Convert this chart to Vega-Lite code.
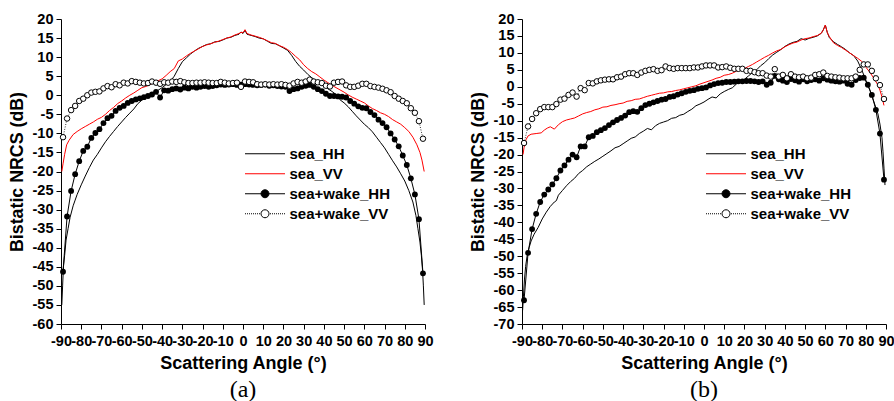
{
"$schema":"https://vega.github.io/schema/vega-lite/v6.json",
"background":"white",
"padding":{"left":8,"top":11,"right":0,"bottom":0},
"spacing":35,
"config":{
 "view":{"stroke":null},
 "axis":{"domainColor":"black","domainWidth":1,"tickColor":"black","tickWidth":1,"tickSize":5,"grid":false,"labelFont":"Liberation Sans","labelFontWeight":"bold","labelFontSize":14.5,"labelColor":"black","titleFont":"Liberation Sans","titleFontWeight":"bold","titleColor":"black","labelOverlap":false,"labelFlush":false,"labelBound":false,"tickCount":100},
 "axisX":{"labelPadding":5,"titleFontSize":18,"titlePadding":7},
 "axisY":{"labelPadding":3,"titleFontSize":17.8,"titlePadding":6},
 "title":{"orient":"bottom","anchor":"middle","frame":"group","font":"Liberation Serif","fontSize":24,"fontWeight":"normal","color":"black","offset":5},
 "legend":{"orient":"none","title":null,"symbolSize":1600,"clipHeight":17.5,"rowPadding":2,"labelFont":"Liberation Sans","labelFontWeight":"bold","labelFontSize":15,"labelColor":"black","labelOffset":4,"labelLimit":300,"symbolStrokeWidth":1,"symbolOpacity":1}
},
"resolve":{"scale":{"color":"independent"},"legend":{"color":"independent"}},
"datasets":{
"a":[
{"series":"sea_HH","angle":-89.6,"nrcs":-55},{"series":"sea_HH","angle":-89.2,"nrcs":-50},{"series":"sea_HH","angle":-88.8,"nrcs":-45},{"series":"sea_HH","angle":-88.2,"nrcs":-42},{"series":"sea_HH","angle":-87.5,"nrcs":-38},{"series":"sea_HH","angle":-86.5,"nrcs":-35},{"series":"sea_HH","angle":-85.5,"nrcs":-32},{"series":"sea_HH","angle":-84,"nrcs":-29},{"series":"sea_HH","angle":-83,"nrcs":-27.5},{"series":"sea_HH","angle":-82,"nrcs":-26},{"series":"sea_HH","angle":-80,"nrcs":-23.5},{"series":"sea_HH","angle":-78,"nrcs":-21.2},{"series":"sea_HH","angle":-76,"nrcs":-19},{"series":"sea_HH","angle":-74,"nrcs":-17},{"series":"sea_HH","angle":-72,"nrcs":-15.5},{"series":"sea_HH","angle":-70,"nrcs":-13.8},{"series":"sea_HH","angle":-68,"nrcs":-12.2},{"series":"sea_HH","angle":-66,"nrcs":-10.8},{"series":"sea_HH","angle":-64,"nrcs":-9.5},{"series":"sea_HH","angle":-62,"nrcs":-8.2},{"series":"sea_HH","angle":-60,"nrcs":-7},{"series":"sea_HH","angle":-58,"nrcs":-5.8},{"series":"sea_HH","angle":-56,"nrcs":-4.7},{"series":"sea_HH","angle":-54,"nrcs":-3.6},{"series":"sea_HH","angle":-52,"nrcs":-2.2},{"series":"sea_HH","angle":-50,"nrcs":-1.3},{"series":"sea_HH","angle":-48,"nrcs":-0.6},{"series":"sea_HH","angle":-46,"nrcs":0.2},{"series":"sea_HH","angle":-44,"nrcs":0.8},{"series":"sea_HH","angle":-42,"nrcs":1.3},{"series":"sea_HH","angle":-40,"nrcs":2},{"series":"sea_HH","angle":-38,"nrcs":2.8},{"series":"sea_HH","angle":-36,"nrcs":3.6},{"series":"sea_HH","angle":-34,"nrcs":5},{"series":"sea_HH","angle":-32,"nrcs":7},{"series":"sea_HH","angle":-30,"nrcs":8.8},{"series":"sea_HH","angle":-28,"nrcs":9.8},{"series":"sea_HH","angle":-26,"nrcs":10.8},{"series":"sea_HH","angle":-24,"nrcs":11.6},{"series":"sea_HH","angle":-22,"nrcs":12.3},{"series":"sea_HH","angle":-20,"nrcs":12.8},{"series":"sea_HH","angle":-18,"nrcs":13.3},{"series":"sea_HH","angle":-16,"nrcs":13.5},{"series":"sea_HH","angle":-14,"nrcs":14},{"series":"sea_HH","angle":-12,"nrcs":14.1},{"series":"sea_HH","angle":-10,"nrcs":14.5},{"series":"sea_HH","angle":-8,"nrcs":15},{"series":"sea_HH","angle":-6,"nrcs":15.2},{"series":"sea_HH","angle":-4,"nrcs":15.7},{"series":"sea_HH","angle":-2,"nrcs":16},{"series":"sea_HH","angle":-1,"nrcs":16.6},{"series":"sea_HH","angle":0,"nrcs":16.2},{"series":"sea_HH","angle":1,"nrcs":17},{"series":"sea_HH","angle":2,"nrcs":16},{"series":"sea_HH","angle":4,"nrcs":15.7},{"series":"sea_HH","angle":6,"nrcs":15.4},{"series":"sea_HH","angle":8,"nrcs":15},{"series":"sea_HH","angle":10,"nrcs":14.8},{"series":"sea_HH","angle":12,"nrcs":14.2},{"series":"sea_HH","angle":14,"nrcs":13.6},{"series":"sea_HH","angle":16,"nrcs":13.5},{"series":"sea_HH","angle":18,"nrcs":13},{"series":"sea_HH","angle":20,"nrcs":12.4},{"series":"sea_HH","angle":22,"nrcs":11.8},{"series":"sea_HH","angle":24,"nrcs":10.5},{"series":"sea_HH","angle":26,"nrcs":8.9},{"series":"sea_HH","angle":28,"nrcs":7.6},{"series":"sea_HH","angle":30,"nrcs":6.6},{"series":"sea_HH","angle":32,"nrcs":5.5},{"series":"sea_HH","angle":34,"nrcs":4.6},{"series":"sea_HH","angle":36,"nrcs":3.8},{"series":"sea_HH","angle":38,"nrcs":3},{"series":"sea_HH","angle":40,"nrcs":2.4},{"series":"sea_HH","angle":42,"nrcs":1.7},{"series":"sea_HH","angle":44,"nrcs":1},{"series":"sea_HH","angle":46,"nrcs":0.2},{"series":"sea_HH","angle":48,"nrcs":-1.2},{"series":"sea_HH","angle":50,"nrcs":-2},{"series":"sea_HH","angle":52,"nrcs":-3},{"series":"sea_HH","angle":54,"nrcs":-4.2},{"series":"sea_HH","angle":56,"nrcs":-5.4},{"series":"sea_HH","angle":58,"nrcs":-6.5},{"series":"sea_HH","angle":60,"nrcs":-7.6},{"series":"sea_HH","angle":62,"nrcs":-8.5},{"series":"sea_HH","angle":64,"nrcs":-9.6},{"series":"sea_HH","angle":66,"nrcs":-11},{"series":"sea_HH","angle":68,"nrcs":-12.4},{"series":"sea_HH","angle":70,"nrcs":-13.8},{"series":"sea_HH","angle":72,"nrcs":-15.5},{"series":"sea_HH","angle":74,"nrcs":-17.2},{"series":"sea_HH","angle":76,"nrcs":-18.8},{"series":"sea_HH","angle":78,"nrcs":-20.6},{"series":"sea_HH","angle":80,"nrcs":-22.5},{"series":"sea_HH","angle":82,"nrcs":-25},{"series":"sea_HH","angle":84,"nrcs":-28},{"series":"sea_HH","angle":85.5,"nrcs":-31.5},{"series":"sea_HH","angle":86.5,"nrcs":-35},{"series":"sea_HH","angle":87.5,"nrcs":-38.5},{"series":"sea_HH","angle":88.2,"nrcs":-42},{"series":"sea_HH","angle":88.8,"nrcs":-46},{"series":"sea_HH","angle":89.2,"nrcs":-50},{"series":"sea_HH","angle":89.6,"nrcs":-55},
{"series":"sea_VV","angle":-89.6,"nrcs":-20},{"series":"sea_VV","angle":-89,"nrcs":-18},{"series":"sea_VV","angle":-88.2,"nrcs":-15.5},{"series":"sea_VV","angle":-87.2,"nrcs":-13},{"series":"sea_VV","angle":-86,"nrcs":-11.8},{"series":"sea_VV","angle":-84,"nrcs":-10.3},{"series":"sea_VV","angle":-82,"nrcs":-9.5},{"series":"sea_VV","angle":-80,"nrcs":-8.8},{"series":"sea_VV","angle":-78,"nrcs":-8.2},{"series":"sea_VV","angle":-76,"nrcs":-7.6},{"series":"sea_VV","angle":-74,"nrcs":-7},{"series":"sea_VV","angle":-72,"nrcs":-6.3},{"series":"sea_VV","angle":-70,"nrcs":-5.8},{"series":"sea_VV","angle":-68,"nrcs":-5},{"series":"sea_VV","angle":-66,"nrcs":-4},{"series":"sea_VV","angle":-64,"nrcs":-3.2},{"series":"sea_VV","angle":-62,"nrcs":-2.2},{"series":"sea_VV","angle":-60,"nrcs":-1.5},{"series":"sea_VV","angle":-58,"nrcs":-0.7},{"series":"sea_VV","angle":-56,"nrcs":0},{"series":"sea_VV","angle":-54,"nrcs":0.6},{"series":"sea_VV","angle":-52,"nrcs":1.3},{"series":"sea_VV","angle":-50,"nrcs":2},{"series":"sea_VV","angle":-48,"nrcs":2.3},{"series":"sea_VV","angle":-46,"nrcs":2.8},{"series":"sea_VV","angle":-44,"nrcs":3.3},{"series":"sea_VV","angle":-42,"nrcs":3.8},{"series":"sea_VV","angle":-40,"nrcs":4.3},{"series":"sea_VV","angle":-38,"nrcs":5.2},{"series":"sea_VV","angle":-36,"nrcs":6.2},{"series":"sea_VV","angle":-34,"nrcs":7},{"series":"sea_VV","angle":-32,"nrcs":9},{"series":"sea_VV","angle":-30,"nrcs":9.5},{"series":"sea_VV","angle":-28,"nrcs":10.3},{"series":"sea_VV","angle":-26,"nrcs":11},{"series":"sea_VV","angle":-24,"nrcs":11.6},{"series":"sea_VV","angle":-22,"nrcs":12.2},{"series":"sea_VV","angle":-20,"nrcs":12.8},{"series":"sea_VV","angle":-18,"nrcs":13.2},{"series":"sea_VV","angle":-16,"nrcs":13.5},{"series":"sea_VV","angle":-14,"nrcs":13.9},{"series":"sea_VV","angle":-12,"nrcs":14.2},{"series":"sea_VV","angle":-10,"nrcs":14.6},{"series":"sea_VV","angle":-8,"nrcs":15},{"series":"sea_VV","angle":-6,"nrcs":15.3},{"series":"sea_VV","angle":-4,"nrcs":15.8},{"series":"sea_VV","angle":-2,"nrcs":16.2},{"series":"sea_VV","angle":-1,"nrcs":16.5},{"series":"sea_VV","angle":0,"nrcs":16.4},{"series":"sea_VV","angle":1,"nrcs":17.2},{"series":"sea_VV","angle":2,"nrcs":16.2},{"series":"sea_VV","angle":4,"nrcs":15.8},{"series":"sea_VV","angle":6,"nrcs":15.5},{"series":"sea_VV","angle":8,"nrcs":15.2},{"series":"sea_VV","angle":10,"nrcs":14.8},{"series":"sea_VV","angle":12,"nrcs":14.3},{"series":"sea_VV","angle":14,"nrcs":13.8},{"series":"sea_VV","angle":16,"nrcs":13.6},{"series":"sea_VV","angle":18,"nrcs":13},{"series":"sea_VV","angle":20,"nrcs":12.6},{"series":"sea_VV","angle":22,"nrcs":12},{"series":"sea_VV","angle":24,"nrcs":11.2},{"series":"sea_VV","angle":26,"nrcs":10.2},{"series":"sea_VV","angle":28,"nrcs":9.3},{"series":"sea_VV","angle":30,"nrcs":8},{"series":"sea_VV","angle":32,"nrcs":7},{"series":"sea_VV","angle":34,"nrcs":6.2},{"series":"sea_VV","angle":36,"nrcs":5.6},{"series":"sea_VV","angle":38,"nrcs":4.8},{"series":"sea_VV","angle":40,"nrcs":4},{"series":"sea_VV","angle":42,"nrcs":3.3},{"series":"sea_VV","angle":44,"nrcs":2.6},{"series":"sea_VV","angle":46,"nrcs":2},{"series":"sea_VV","angle":48,"nrcs":1.4},{"series":"sea_VV","angle":50,"nrcs":0.8},{"series":"sea_VV","angle":52,"nrcs":0.1},{"series":"sea_VV","angle":54,"nrcs":-0.5},{"series":"sea_VV","angle":56,"nrcs":-1},{"series":"sea_VV","angle":58,"nrcs":-1.5},{"series":"sea_VV","angle":60,"nrcs":-2},{"series":"sea_VV","angle":62,"nrcs":-2.8},{"series":"sea_VV","angle":64,"nrcs":-3.5},{"series":"sea_VV","angle":66,"nrcs":-4},{"series":"sea_VV","angle":68,"nrcs":-4.6},{"series":"sea_VV","angle":70,"nrcs":-5},{"series":"sea_VV","angle":72,"nrcs":-5.6},{"series":"sea_VV","angle":74,"nrcs":-6.4},{"series":"sea_VV","angle":76,"nrcs":-7},{"series":"sea_VV","angle":78,"nrcs":-7.6},{"series":"sea_VV","angle":80,"nrcs":-8.5},{"series":"sea_VV","angle":82,"nrcs":-9.5},{"series":"sea_VV","angle":84,"nrcs":-11},{"series":"sea_VV","angle":86,"nrcs":-13},{"series":"sea_VV","angle":87.5,"nrcs":-15},{"series":"sea_VV","angle":88.5,"nrcs":-17},{"series":"sea_VV","angle":89.6,"nrcs":-20},
{"series":"sea+wake_HH","angle":-89,"nrcs":-46.3},{"series":"sea+wake_HH","angle":-87,"nrcs":-31.8},{"series":"sea+wake_HH","angle":-85,"nrcs":-25.1},{"series":"sea+wake_HH","angle":-83,"nrcs":-20.7},{"series":"sea+wake_HH","angle":-81,"nrcs":-17.3},{"series":"sea+wake_HH","angle":-79,"nrcs":-14.6},{"series":"sea+wake_HH","angle":-77,"nrcs":-13.5},{"series":"sea+wake_HH","angle":-75,"nrcs":-11.2},{"series":"sea+wake_HH","angle":-73,"nrcs":-9.9},{"series":"sea+wake_HH","angle":-71,"nrcs":-8.9},{"series":"sea+wake_HH","angle":-69,"nrcs":-7.3},{"series":"sea+wake_HH","angle":-67,"nrcs":-6},{"series":"sea+wake_HH","angle":-65,"nrcs":-5.4},{"series":"sea+wake_HH","angle":-63,"nrcs":-4.1},{"series":"sea+wake_HH","angle":-61,"nrcs":-3.3},{"series":"sea+wake_HH","angle":-59,"nrcs":-2.8},{"series":"sea+wake_HH","angle":-57,"nrcs":-2},{"series":"sea+wake_HH","angle":-55,"nrcs":-1.5},{"series":"sea+wake_HH","angle":-53,"nrcs":-1.1},{"series":"sea+wake_HH","angle":-51,"nrcs":-0.8},{"series":"sea+wake_HH","angle":-49,"nrcs":-0.5},{"series":"sea+wake_HH","angle":-47,"nrcs":-0.2},{"series":"sea+wake_HH","angle":-45,"nrcs":0.2},{"series":"sea+wake_HH","angle":-43,"nrcs":0.9},{"series":"sea+wake_HH","angle":-41,"nrcs":-0.6},{"series":"sea+wake_HH","angle":-39,"nrcs":1.3},{"series":"sea+wake_HH","angle":-37,"nrcs":1.2},{"series":"sea+wake_HH","angle":-35,"nrcs":1.6},{"series":"sea+wake_HH","angle":-33,"nrcs":1.8},{"series":"sea+wake_HH","angle":-31,"nrcs":1.5},{"series":"sea+wake_HH","angle":-29,"nrcs":2},{"series":"sea+wake_HH","angle":-27,"nrcs":1.8},{"series":"sea+wake_HH","angle":-25,"nrcs":2.2},{"series":"sea+wake_HH","angle":-23,"nrcs":2},{"series":"sea+wake_HH","angle":-21,"nrcs":2.2},{"series":"sea+wake_HH","angle":-19,"nrcs":2.4},{"series":"sea+wake_HH","angle":-17,"nrcs":2.2},{"series":"sea+wake_HH","angle":-15,"nrcs":2.4},{"series":"sea+wake_HH","angle":-13,"nrcs":2.6},{"series":"sea+wake_HH","angle":-11,"nrcs":2.8},{"series":"sea+wake_HH","angle":-9,"nrcs":2.7},{"series":"sea+wake_HH","angle":-7,"nrcs":2.8},{"series":"sea+wake_HH","angle":-5,"nrcs":2.9},{"series":"sea+wake_HH","angle":-3,"nrcs":2.7},{"series":"sea+wake_HH","angle":-1,"nrcs":2.8},{"series":"sea+wake_HH","angle":1,"nrcs":2.9},{"series":"sea+wake_HH","angle":3,"nrcs":2.8},{"series":"sea+wake_HH","angle":5,"nrcs":2.7},{"series":"sea+wake_HH","angle":7,"nrcs":2.6},{"series":"sea+wake_HH","angle":9,"nrcs":2.7},{"series":"sea+wake_HH","angle":11,"nrcs":2.8},{"series":"sea+wake_HH","angle":13,"nrcs":2.5},{"series":"sea+wake_HH","angle":15,"nrcs":2.6},{"series":"sea+wake_HH","angle":17,"nrcs":2.4},{"series":"sea+wake_HH","angle":19,"nrcs":2.3},{"series":"sea+wake_HH","angle":21,"nrcs":2.2},{"series":"sea+wake_HH","angle":23,"nrcs":1.1},{"series":"sea+wake_HH","angle":25,"nrcs":1.6},{"series":"sea+wake_HH","angle":27,"nrcs":1.8},{"series":"sea+wake_HH","angle":29,"nrcs":2.2},{"series":"sea+wake_HH","angle":31,"nrcs":2.5},{"series":"sea+wake_HH","angle":33,"nrcs":2.7},{"series":"sea+wake_HH","angle":35,"nrcs":2.2},{"series":"sea+wake_HH","angle":37,"nrcs":1.6},{"series":"sea+wake_HH","angle":39,"nrcs":1.1},{"series":"sea+wake_HH","angle":41,"nrcs":0.4},{"series":"sea+wake_HH","angle":43,"nrcs":-0.2},{"series":"sea+wake_HH","angle":45,"nrcs":-0.2},{"series":"sea+wake_HH","angle":47,"nrcs":-0.3},{"series":"sea+wake_HH","angle":49,"nrcs":-0.4},{"series":"sea+wake_HH","angle":51,"nrcs":-0.6},{"series":"sea+wake_HH","angle":53,"nrcs":-1.5},{"series":"sea+wake_HH","angle":55,"nrcs":-2.2},{"series":"sea+wake_HH","angle":57,"nrcs":-2.9},{"series":"sea+wake_HH","angle":59,"nrcs":-3.3},{"series":"sea+wake_HH","angle":61,"nrcs":-3.4},{"series":"sea+wake_HH","angle":63,"nrcs":-4.4},{"series":"sea+wake_HH","angle":65,"nrcs":-5.2},{"series":"sea+wake_HH","angle":67,"nrcs":-6.4},{"series":"sea+wake_HH","angle":69,"nrcs":-7.3},{"series":"sea+wake_HH","angle":71,"nrcs":-8.4},{"series":"sea+wake_HH","angle":73,"nrcs":-10},{"series":"sea+wake_HH","angle":75,"nrcs":-11.6},{"series":"sea+wake_HH","angle":77,"nrcs":-13.4},{"series":"sea+wake_HH","angle":79,"nrcs":-15.8},{"series":"sea+wake_HH","angle":81,"nrcs":-18.3},{"series":"sea+wake_HH","angle":83,"nrcs":-21.8},{"series":"sea+wake_HH","angle":85,"nrcs":-26},{"series":"sea+wake_HH","angle":87,"nrcs":-32.5},{"series":"sea+wake_HH","angle":89,"nrcs":-46.7},
{"series":"sea+wake_VV","angle":-89,"nrcs":-11},{"series":"sea+wake_VV","angle":-87,"nrcs":-6.1},{"series":"sea+wake_VV","angle":-85,"nrcs":-3.9},{"series":"sea+wake_VV","angle":-83,"nrcs":-2.8},{"series":"sea+wake_VV","angle":-81,"nrcs":-1.5},{"series":"sea+wake_VV","angle":-79,"nrcs":-0.9},{"series":"sea+wake_VV","angle":-77,"nrcs":0},{"series":"sea+wake_VV","angle":-75,"nrcs":0.7},{"series":"sea+wake_VV","angle":-73,"nrcs":0.9},{"series":"sea+wake_VV","angle":-71,"nrcs":1},{"series":"sea+wake_VV","angle":-69,"nrcs":1.8},{"series":"sea+wake_VV","angle":-67,"nrcs":2.4},{"series":"sea+wake_VV","angle":-65,"nrcs":2.1},{"series":"sea+wake_VV","angle":-63,"nrcs":2.9},{"series":"sea+wake_VV","angle":-61,"nrcs":2.6},{"series":"sea+wake_VV","angle":-59,"nrcs":3.3},{"series":"sea+wake_VV","angle":-57,"nrcs":3.1},{"series":"sea+wake_VV","angle":-55,"nrcs":3.7},{"series":"sea+wake_VV","angle":-53,"nrcs":3.5},{"series":"sea+wake_VV","angle":-51,"nrcs":3.3},{"series":"sea+wake_VV","angle":-49,"nrcs":3.1},{"series":"sea+wake_VV","angle":-47,"nrcs":3.2},{"series":"sea+wake_VV","angle":-45,"nrcs":3.6},{"series":"sea+wake_VV","angle":-43,"nrcs":3.3},{"series":"sea+wake_VV","angle":-41,"nrcs":3},{"series":"sea+wake_VV","angle":-39,"nrcs":3.4},{"series":"sea+wake_VV","angle":-37,"nrcs":3.3},{"series":"sea+wake_VV","angle":-35,"nrcs":3.6},{"series":"sea+wake_VV","angle":-33,"nrcs":3.5},{"series":"sea+wake_VV","angle":-31,"nrcs":3.7},{"series":"sea+wake_VV","angle":-29,"nrcs":3.4},{"series":"sea+wake_VV","angle":-27,"nrcs":3.2},{"series":"sea+wake_VV","angle":-25,"nrcs":3.2},{"series":"sea+wake_VV","angle":-23,"nrcs":3.3},{"series":"sea+wake_VV","angle":-21,"nrcs":3.3},{"series":"sea+wake_VV","angle":-19,"nrcs":3.4},{"series":"sea+wake_VV","angle":-17,"nrcs":3.3},{"series":"sea+wake_VV","angle":-15,"nrcs":3.2},{"series":"sea+wake_VV","angle":-13,"nrcs":3.2},{"series":"sea+wake_VV","angle":-11,"nrcs":3.5},{"series":"sea+wake_VV","angle":-9,"nrcs":3.3},{"series":"sea+wake_VV","angle":-7,"nrcs":3.1},{"series":"sea+wake_VV","angle":-5,"nrcs":3.2},{"series":"sea+wake_VV","angle":-3,"nrcs":3.3},{"series":"sea+wake_VV","angle":-1,"nrcs":2.2},{"series":"sea+wake_VV","angle":1,"nrcs":3.6},{"series":"sea+wake_VV","angle":3,"nrcs":3.5},{"series":"sea+wake_VV","angle":5,"nrcs":3.4},{"series":"sea+wake_VV","angle":7,"nrcs":2.9},{"series":"sea+wake_VV","angle":9,"nrcs":2.8},{"series":"sea+wake_VV","angle":11,"nrcs":2.9},{"series":"sea+wake_VV","angle":13,"nrcs":2.8},{"series":"sea+wake_VV","angle":15,"nrcs":2.9},{"series":"sea+wake_VV","angle":17,"nrcs":2.8},{"series":"sea+wake_VV","angle":19,"nrcs":2.9},{"series":"sea+wake_VV","angle":21,"nrcs":2.7},{"series":"sea+wake_VV","angle":23,"nrcs":2.5},{"series":"sea+wake_VV","angle":25,"nrcs":3.1},{"series":"sea+wake_VV","angle":27,"nrcs":3.5},{"series":"sea+wake_VV","angle":29,"nrcs":3.3},{"series":"sea+wake_VV","angle":31,"nrcs":3.6},{"series":"sea+wake_VV","angle":33,"nrcs":4.1},{"series":"sea+wake_VV","angle":35,"nrcs":3.6},{"series":"sea+wake_VV","angle":37,"nrcs":3.4},{"series":"sea+wake_VV","angle":39,"nrcs":3.2},{"series":"sea+wake_VV","angle":41,"nrcs":2.5},{"series":"sea+wake_VV","angle":43,"nrcs":2.3},{"series":"sea+wake_VV","angle":45,"nrcs":3.3},{"series":"sea+wake_VV","angle":47,"nrcs":3.5},{"series":"sea+wake_VV","angle":49,"nrcs":3.6},{"series":"sea+wake_VV","angle":51,"nrcs":2.6},{"series":"sea+wake_VV","angle":53,"nrcs":2.2},{"series":"sea+wake_VV","angle":55,"nrcs":2.2},{"series":"sea+wake_VV","angle":57,"nrcs":2.5},{"series":"sea+wake_VV","angle":59,"nrcs":3},{"series":"sea+wake_VV","angle":61,"nrcs":3},{"series":"sea+wake_VV","angle":63,"nrcs":2.4},{"series":"sea+wake_VV","angle":65,"nrcs":2.2},{"series":"sea+wake_VV","angle":67,"nrcs":2},{"series":"sea+wake_VV","angle":69,"nrcs":1.7},{"series":"sea+wake_VV","angle":71,"nrcs":1.3},{"series":"sea+wake_VV","angle":73,"nrcs":0.8},{"series":"sea+wake_VV","angle":75,"nrcs":-0.2},{"series":"sea+wake_VV","angle":77,"nrcs":-0.9},{"series":"sea+wake_VV","angle":79,"nrcs":-1.5},{"series":"sea+wake_VV","angle":81,"nrcs":-2.1},{"series":"sea+wake_VV","angle":83,"nrcs":-3.4},{"series":"sea+wake_VV","angle":85,"nrcs":-4.6},{"series":"sea+wake_VV","angle":87,"nrcs":-6.8},{"series":"sea+wake_VV","angle":89,"nrcs":-11.4}
],
"b":[
{"series":"sea_HH","angle":-89.7,"nrcs":-66},{"series":"sea_HH","angle":-89.3,"nrcs":-62},{"series":"sea_HH","angle":-88.8,"nrcs":-57},{"series":"sea_HH","angle":-88.2,"nrcs":-53},{"series":"sea_HH","angle":-87.5,"nrcs":-50},{"series":"sea_HH","angle":-86.5,"nrcs":-47.5},{"series":"sea_HH","angle":-85.5,"nrcs":-45.5},{"series":"sea_HH","angle":-84,"nrcs":-43.5},{"series":"sea_HH","angle":-82,"nrcs":-41.5},{"series":"sea_HH","angle":-80,"nrcs":-39},{"series":"sea_HH","angle":-78,"nrcs":-37},{"series":"sea_HH","angle":-76,"nrcs":-35.3},{"series":"sea_HH","angle":-74,"nrcs":-34},{"series":"sea_HH","angle":-73,"nrcs":-33.6},{"series":"sea_HH","angle":-72,"nrcs":-32},{"series":"sea_HH","angle":-70,"nrcs":-30.6},{"series":"sea_HH","angle":-68,"nrcs":-29.2},{"series":"sea_HH","angle":-66,"nrcs":-28},{"series":"sea_HH","angle":-64,"nrcs":-27},{"series":"sea_HH","angle":-62,"nrcs":-25.6},{"series":"sea_HH","angle":-60,"nrcs":-24.7},{"series":"sea_HH","angle":-58,"nrcs":-23.6},{"series":"sea_HH","angle":-56,"nrcs":-22.8},{"series":"sea_HH","angle":-54,"nrcs":-22},{"series":"sea_HH","angle":-52,"nrcs":-21.3},{"series":"sea_HH","angle":-50,"nrcs":-20.5},{"series":"sea_HH","angle":-48,"nrcs":-19.7},{"series":"sea_HH","angle":-46,"nrcs":-18.9},{"series":"sea_HH","angle":-44,"nrcs":-18},{"series":"sea_HH","angle":-42,"nrcs":-17.6},{"series":"sea_HH","angle":-40,"nrcs":-16.8},{"series":"sea_HH","angle":-38,"nrcs":-16},{"series":"sea_HH","angle":-36,"nrcs":-15.2},{"series":"sea_HH","angle":-34,"nrcs":-14.8},{"series":"sea_HH","angle":-32,"nrcs":-13.8},{"series":"sea_HH","angle":-30,"nrcs":-13.1},{"series":"sea_HH","angle":-28,"nrcs":-12.3},{"series":"sea_HH","angle":-26,"nrcs":-12.7},{"series":"sea_HH","angle":-24,"nrcs":-11.5},{"series":"sea_HH","angle":-22,"nrcs":-10.8},{"series":"sea_HH","angle":-20,"nrcs":-10.4},{"series":"sea_HH","angle":-18,"nrcs":-10},{"series":"sea_HH","angle":-16,"nrcs":-9.3},{"series":"sea_HH","angle":-14,"nrcs":-9.1},{"series":"sea_HH","angle":-12,"nrcs":-8.4},{"series":"sea_HH","angle":-10,"nrcs":-8.1},{"series":"sea_HH","angle":-8,"nrcs":-7.3},{"series":"sea_HH","angle":-6,"nrcs":-6.6},{"series":"sea_HH","angle":-4,"nrcs":-5.6},{"series":"sea_HH","angle":-2,"nrcs":-5.1},{"series":"sea_HH","angle":0,"nrcs":-4.5},{"series":"sea_HH","angle":2,"nrcs":-3.7},{"series":"sea_HH","angle":4,"nrcs":-3},{"series":"sea_HH","angle":6,"nrcs":-3.3},{"series":"sea_HH","angle":8,"nrcs":-2.1},{"series":"sea_HH","angle":10,"nrcs":-1.4},{"series":"sea_HH","angle":12,"nrcs":-0.8},{"series":"sea_HH","angle":14,"nrcs":-0.3},{"series":"sea_HH","angle":16,"nrcs":0.8},{"series":"sea_HH","angle":18,"nrcs":1.6},{"series":"sea_HH","angle":20,"nrcs":2.2},{"series":"sea_HH","angle":22,"nrcs":3.2},{"series":"sea_HH","angle":24,"nrcs":4.2},{"series":"sea_HH","angle":26,"nrcs":5},{"series":"sea_HH","angle":28,"nrcs":6.2},{"series":"sea_HH","angle":30,"nrcs":7.1},{"series":"sea_HH","angle":32,"nrcs":8.3},{"series":"sea_HH","angle":34,"nrcs":9.4},{"series":"sea_HH","angle":36,"nrcs":10.2},{"series":"sea_HH","angle":38,"nrcs":11},{"series":"sea_HH","angle":40,"nrcs":11.9},{"series":"sea_HH","angle":42,"nrcs":12.6},{"series":"sea_HH","angle":44,"nrcs":13.1},{"series":"sea_HH","angle":46,"nrcs":13.4},{"series":"sea_HH","angle":48,"nrcs":14.2},{"series":"sea_HH","angle":50,"nrcs":13.8},{"series":"sea_HH","angle":52,"nrcs":14.3},{"series":"sea_HH","angle":54,"nrcs":14.6},{"series":"sea_HH","angle":56,"nrcs":15},{"series":"sea_HH","angle":58,"nrcs":15.8},{"series":"sea_HH","angle":59,"nrcs":16.8},{"series":"sea_HH","angle":60,"nrcs":18.2},{"series":"sea_HH","angle":61,"nrcs":16},{"series":"sea_HH","angle":62,"nrcs":14.5},{"series":"sea_HH","angle":64,"nrcs":13.3},{"series":"sea_HH","angle":66,"nrcs":12.5},{"series":"sea_HH","angle":68,"nrcs":11.8},{"series":"sea_HH","angle":70,"nrcs":11},{"series":"sea_HH","angle":72,"nrcs":10},{"series":"sea_HH","angle":74,"nrcs":9.2},{"series":"sea_HH","angle":76,"nrcs":7.6},{"series":"sea_HH","angle":78,"nrcs":5},{"series":"sea_HH","angle":80,"nrcs":2},{"series":"sea_HH","angle":82,"nrcs":-1},{"series":"sea_HH","angle":84,"nrcs":-4.4},{"series":"sea_HH","angle":86,"nrcs":-8},{"series":"sea_HH","angle":87,"nrcs":-11},{"series":"sea_HH","angle":88,"nrcs":-15},{"series":"sea_HH","angle":88.5,"nrcs":-19},{"series":"sea_HH","angle":89,"nrcs":-24},{"series":"sea_HH","angle":89.5,"nrcs":-29},
{"series":"sea_VV","angle":-89.5,"nrcs":-20},{"series":"sea_VV","angle":-89,"nrcs":-18},{"series":"sea_VV","angle":-88,"nrcs":-15.6},{"series":"sea_VV","angle":-87,"nrcs":-14.5},{"series":"sea_VV","angle":-85.5,"nrcs":-14},{"series":"sea_VV","angle":-83,"nrcs":-13.8},{"series":"sea_VV","angle":-80.5,"nrcs":-13.6},{"series":"sea_VV","angle":-79,"nrcs":-12.8},{"series":"sea_VV","angle":-77.5,"nrcs":-12.2},{"series":"sea_VV","angle":-76,"nrcs":-11.8},{"series":"sea_VV","angle":-74,"nrcs":-12.5},{"series":"sea_VV","angle":-72,"nrcs":-11.2},{"series":"sea_VV","angle":-70,"nrcs":-10.3},{"series":"sea_VV","angle":-68,"nrcs":-9.8},{"series":"sea_VV","angle":-66,"nrcs":-9.5},{"series":"sea_VV","angle":-64,"nrcs":-9.2},{"series":"sea_VV","angle":-62,"nrcs":-8.6},{"series":"sea_VV","angle":-60,"nrcs":-8},{"series":"sea_VV","angle":-58,"nrcs":-7.6},{"series":"sea_VV","angle":-56,"nrcs":-7.3},{"series":"sea_VV","angle":-54,"nrcs":-6.8},{"series":"sea_VV","angle":-52,"nrcs":-6.5},{"series":"sea_VV","angle":-50,"nrcs":-6},{"series":"sea_VV","angle":-48,"nrcs":-5.9},{"series":"sea_VV","angle":-46,"nrcs":-5.5},{"series":"sea_VV","angle":-44,"nrcs":-5.3},{"series":"sea_VV","angle":-42,"nrcs":-5},{"series":"sea_VV","angle":-40,"nrcs":-4.8},{"series":"sea_VV","angle":-38,"nrcs":-4.3},{"series":"sea_VV","angle":-36,"nrcs":-4.1},{"series":"sea_VV","angle":-34,"nrcs":-3.7},{"series":"sea_VV","angle":-32,"nrcs":-3.6},{"series":"sea_VV","angle":-30,"nrcs":-3.2},{"series":"sea_VV","angle":-28,"nrcs":-2.8},{"series":"sea_VV","angle":-26,"nrcs":-2.5},{"series":"sea_VV","angle":-24,"nrcs":-2.2},{"series":"sea_VV","angle":-22,"nrcs":-1.9},{"series":"sea_VV","angle":-20,"nrcs":-1.8},{"series":"sea_VV","angle":-18,"nrcs":-1.5},{"series":"sea_VV","angle":-16,"nrcs":-1.4},{"series":"sea_VV","angle":-14,"nrcs":-1.1},{"series":"sea_VV","angle":-12,"nrcs":-0.9},{"series":"sea_VV","angle":-10,"nrcs":-0.6},{"series":"sea_VV","angle":-8,"nrcs":-0.3},{"series":"sea_VV","angle":-6,"nrcs":0},{"series":"sea_VV","angle":-4,"nrcs":0.3},{"series":"sea_VV","angle":-2,"nrcs":0.8},{"series":"sea_VV","angle":0,"nrcs":1.2},{"series":"sea_VV","angle":2,"nrcs":1.6},{"series":"sea_VV","angle":4,"nrcs":2},{"series":"sea_VV","angle":6,"nrcs":2.5},{"series":"sea_VV","angle":8,"nrcs":2.8},{"series":"sea_VV","angle":10,"nrcs":3.4},{"series":"sea_VV","angle":12,"nrcs":3.6},{"series":"sea_VV","angle":14,"nrcs":4},{"series":"sea_VV","angle":16,"nrcs":4.6},{"series":"sea_VV","angle":18,"nrcs":5},{"series":"sea_VV","angle":20,"nrcs":5.4},{"series":"sea_VV","angle":22,"nrcs":6},{"series":"sea_VV","angle":24,"nrcs":6.6},{"series":"sea_VV","angle":26,"nrcs":7.3},{"series":"sea_VV","angle":28,"nrcs":8},{"series":"sea_VV","angle":30,"nrcs":8.7},{"series":"sea_VV","angle":32,"nrcs":9.3},{"series":"sea_VV","angle":34,"nrcs":10},{"series":"sea_VV","angle":36,"nrcs":10.6},{"series":"sea_VV","angle":38,"nrcs":11},{"series":"sea_VV","angle":40,"nrcs":11.8},{"series":"sea_VV","angle":42,"nrcs":12.4},{"series":"sea_VV","angle":44,"nrcs":12.9},{"series":"sea_VV","angle":46,"nrcs":13.2},{"series":"sea_VV","angle":48,"nrcs":13.8},{"series":"sea_VV","angle":50,"nrcs":14.2},{"series":"sea_VV","angle":52,"nrcs":14.4},{"series":"sea_VV","angle":54,"nrcs":14.8},{"series":"sea_VV","angle":56,"nrcs":15.1},{"series":"sea_VV","angle":58,"nrcs":15.8},{"series":"sea_VV","angle":59,"nrcs":16.8},{"series":"sea_VV","angle":60,"nrcs":18.2},{"series":"sea_VV","angle":61,"nrcs":15.9},{"series":"sea_VV","angle":62,"nrcs":14.8},{"series":"sea_VV","angle":64,"nrcs":13},{"series":"sea_VV","angle":66,"nrcs":12.2},{"series":"sea_VV","angle":68,"nrcs":11.6},{"series":"sea_VV","angle":70,"nrcs":10.8},{"series":"sea_VV","angle":72,"nrcs":10},{"series":"sea_VV","angle":74,"nrcs":9.2},{"series":"sea_VV","angle":76,"nrcs":8.4},{"series":"sea_VV","angle":78,"nrcs":7.5},{"series":"sea_VV","angle":80,"nrcs":5.8},{"series":"sea_VV","angle":82,"nrcs":4.3},{"series":"sea_VV","angle":84,"nrcs":2.5},{"series":"sea_VV","angle":86,"nrcs":0.5},{"series":"sea_VV","angle":87,"nrcs":-1},{"series":"sea_VV","angle":88,"nrcs":-3},{"series":"sea_VV","angle":89,"nrcs":-5.5},
{"series":"sea+wake_HH","angle":-89,"nrcs":-63},{"series":"sea+wake_HH","angle":-87,"nrcs":-49},{"series":"sea+wake_HH","angle":-85,"nrcs":-42},{"series":"sea+wake_HH","angle":-83,"nrcs":-37.5},{"series":"sea+wake_HH","angle":-81,"nrcs":-34},{"series":"sea+wake_HH","angle":-79,"nrcs":-31.8},{"series":"sea+wake_HH","angle":-77,"nrcs":-30.3},{"series":"sea+wake_HH","angle":-75,"nrcs":-28.8},{"series":"sea+wake_HH","angle":-73,"nrcs":-27},{"series":"sea+wake_HH","angle":-71,"nrcs":-24.7},{"series":"sea+wake_HH","angle":-69,"nrcs":-23.2},{"series":"sea+wake_HH","angle":-67,"nrcs":-21.5},{"series":"sea+wake_HH","angle":-65,"nrcs":-20},{"series":"sea+wake_HH","angle":-63,"nrcs":-20.8},{"series":"sea+wake_HH","angle":-61,"nrcs":-17.6},{"series":"sea+wake_HH","angle":-59,"nrcs":-17.6},{"series":"sea+wake_HH","angle":-57,"nrcs":-14.9},{"series":"sea+wake_HH","angle":-55,"nrcs":-14.5},{"series":"sea+wake_HH","angle":-53,"nrcs":-13.4},{"series":"sea+wake_HH","angle":-51,"nrcs":-12.8},{"series":"sea+wake_HH","angle":-49,"nrcs":-12.2},{"series":"sea+wake_HH","angle":-47,"nrcs":-11.3},{"series":"sea+wake_HH","angle":-45,"nrcs":-10.5},{"series":"sea+wake_HH","angle":-43,"nrcs":-9.8},{"series":"sea+wake_HH","angle":-41,"nrcs":-9.2},{"series":"sea+wake_HH","angle":-39,"nrcs":-8.5},{"series":"sea+wake_HH","angle":-37,"nrcs":-7.5},{"series":"sea+wake_HH","angle":-35,"nrcs":-7.2},{"series":"sea+wake_HH","angle":-33,"nrcs":-7.4},{"series":"sea+wake_HH","angle":-31,"nrcs":-6.3},{"series":"sea+wake_HH","angle":-29,"nrcs":-5.4},{"series":"sea+wake_HH","angle":-27,"nrcs":-5},{"series":"sea+wake_HH","angle":-25,"nrcs":-4.6},{"series":"sea+wake_HH","angle":-23,"nrcs":-4.2},{"series":"sea+wake_HH","angle":-21,"nrcs":-3.8},{"series":"sea+wake_HH","angle":-19,"nrcs":-3.6},{"series":"sea+wake_HH","angle":-17,"nrcs":-3},{"series":"sea+wake_HH","angle":-15,"nrcs":-2.8},{"series":"sea+wake_HH","angle":-13,"nrcs":-2.3},{"series":"sea+wake_HH","angle":-11,"nrcs":-1.9},{"series":"sea+wake_HH","angle":-9,"nrcs":-1.5},{"series":"sea+wake_HH","angle":-7,"nrcs":-1.2},{"series":"sea+wake_HH","angle":-5,"nrcs":-1},{"series":"sea+wake_HH","angle":-3,"nrcs":-0.6},{"series":"sea+wake_HH","angle":-1,"nrcs":-0.4},{"series":"sea+wake_HH","angle":1,"nrcs":-0.2},{"series":"sea+wake_HH","angle":3,"nrcs":0.4},{"series":"sea+wake_HH","angle":5,"nrcs":0.8},{"series":"sea+wake_HH","angle":7,"nrcs":1.1},{"series":"sea+wake_HH","angle":9,"nrcs":1.2},{"series":"sea+wake_HH","angle":11,"nrcs":1.4},{"series":"sea+wake_HH","angle":13,"nrcs":1.4},{"series":"sea+wake_HH","angle":15,"nrcs":1.5},{"series":"sea+wake_HH","angle":17,"nrcs":1.6},{"series":"sea+wake_HH","angle":19,"nrcs":1.6},{"series":"sea+wake_HH","angle":21,"nrcs":1.7},{"series":"sea+wake_HH","angle":23,"nrcs":1.7},{"series":"sea+wake_HH","angle":25,"nrcs":1.6},{"series":"sea+wake_HH","angle":27,"nrcs":1.4},{"series":"sea+wake_HH","angle":29,"nrcs":1.6},{"series":"sea+wake_HH","angle":31,"nrcs":0.6},{"series":"sea+wake_HH","angle":33,"nrcs":1.2},{"series":"sea+wake_HH","angle":35,"nrcs":3.2},{"series":"sea+wake_HH","angle":37,"nrcs":2.2},{"series":"sea+wake_HH","angle":39,"nrcs":1.8},{"series":"sea+wake_HH","angle":41,"nrcs":1.4},{"series":"sea+wake_HH","angle":43,"nrcs":2.3},{"series":"sea+wake_HH","angle":45,"nrcs":1.9},{"series":"sea+wake_HH","angle":47,"nrcs":1.5},{"series":"sea+wake_HH","angle":49,"nrcs":2.2},{"series":"sea+wake_HH","angle":51,"nrcs":1.6},{"series":"sea+wake_HH","angle":53,"nrcs":2},{"series":"sea+wake_HH","angle":55,"nrcs":2.2},{"series":"sea+wake_HH","angle":57,"nrcs":1.8},{"series":"sea+wake_HH","angle":59,"nrcs":2.5},{"series":"sea+wake_HH","angle":61,"nrcs":2.1},{"series":"sea+wake_HH","angle":63,"nrcs":1.8},{"series":"sea+wake_HH","angle":65,"nrcs":1.6},{"series":"sea+wake_HH","angle":67,"nrcs":1.5},{"series":"sea+wake_HH","angle":69,"nrcs":1.8},{"series":"sea+wake_HH","angle":71,"nrcs":0.9},{"series":"sea+wake_HH","angle":73,"nrcs":0.6},{"series":"sea+wake_HH","angle":75,"nrcs":2},{"series":"sea+wake_HH","angle":77,"nrcs":2.6},{"series":"sea+wake_HH","angle":79,"nrcs":2.7},{"series":"sea+wake_HH","angle":81,"nrcs":0.6},{"series":"sea+wake_HH","angle":83,"nrcs":-2.4},{"series":"sea+wake_HH","angle":85,"nrcs":-6.8},{"series":"sea+wake_HH","angle":87,"nrcs":-13.8},{"series":"sea+wake_HH","angle":89,"nrcs":-27.4},
{"series":"sea+wake_VV","angle":-89,"nrcs":-16.6},{"series":"sea+wake_VV","angle":-87,"nrcs":-11.7},{"series":"sea+wake_VV","angle":-85,"nrcs":-9.5},{"series":"sea+wake_VV","angle":-83,"nrcs":-7.8},{"series":"sea+wake_VV","angle":-81,"nrcs":-6.6},{"series":"sea+wake_VV","angle":-79,"nrcs":-6},{"series":"sea+wake_VV","angle":-77,"nrcs":-6},{"series":"sea+wake_VV","angle":-75,"nrcs":-6},{"series":"sea+wake_VV","angle":-73,"nrcs":-5.1},{"series":"sea+wake_VV","angle":-71,"nrcs":-3.8},{"series":"sea+wake_VV","angle":-69,"nrcs":-3.5},{"series":"sea+wake_VV","angle":-67,"nrcs":-2.4},{"series":"sea+wake_VV","angle":-65,"nrcs":-1.7},{"series":"sea+wake_VV","angle":-63,"nrcs":-2.9},{"series":"sea+wake_VV","angle":-61,"nrcs":-0.4},{"series":"sea+wake_VV","angle":-59,"nrcs":-1},{"series":"sea+wake_VV","angle":-57,"nrcs":1.1},{"series":"sea+wake_VV","angle":-55,"nrcs":1},{"series":"sea+wake_VV","angle":-53,"nrcs":1.6},{"series":"sea+wake_VV","angle":-51,"nrcs":1.9},{"series":"sea+wake_VV","angle":-49,"nrcs":2.1},{"series":"sea+wake_VV","angle":-47,"nrcs":2.2},{"series":"sea+wake_VV","angle":-45,"nrcs":2.2},{"series":"sea+wake_VV","angle":-43,"nrcs":2.8},{"series":"sea+wake_VV","angle":-41,"nrcs":3},{"series":"sea+wake_VV","angle":-39,"nrcs":3.7},{"series":"sea+wake_VV","angle":-37,"nrcs":4},{"series":"sea+wake_VV","angle":-35,"nrcs":4},{"series":"sea+wake_VV","angle":-33,"nrcs":3.5},{"series":"sea+wake_VV","angle":-31,"nrcs":4.2},{"series":"sea+wake_VV","angle":-29,"nrcs":4.7},{"series":"sea+wake_VV","angle":-27,"nrcs":5},{"series":"sea+wake_VV","angle":-25,"nrcs":5.2},{"series":"sea+wake_VV","angle":-23,"nrcs":4.7},{"series":"sea+wake_VV","angle":-21,"nrcs":4.9},{"series":"sea+wake_VV","angle":-19,"nrcs":6},{"series":"sea+wake_VV","angle":-17,"nrcs":5.5},{"series":"sea+wake_VV","angle":-15,"nrcs":5.3},{"series":"sea+wake_VV","angle":-13,"nrcs":5.5},{"series":"sea+wake_VV","angle":-11,"nrcs":5.5},{"series":"sea+wake_VV","angle":-9,"nrcs":5.5},{"series":"sea+wake_VV","angle":-7,"nrcs":5.5},{"series":"sea+wake_VV","angle":-5,"nrcs":5.7},{"series":"sea+wake_VV","angle":-3,"nrcs":5.7},{"series":"sea+wake_VV","angle":-1,"nrcs":6},{"series":"sea+wake_VV","angle":1,"nrcs":6.3},{"series":"sea+wake_VV","angle":3,"nrcs":6.3},{"series":"sea+wake_VV","angle":5,"nrcs":6.3},{"series":"sea+wake_VV","angle":7,"nrcs":5.7},{"series":"sea+wake_VV","angle":9,"nrcs":5.8},{"series":"sea+wake_VV","angle":11,"nrcs":6},{"series":"sea+wake_VV","angle":13,"nrcs":5.6},{"series":"sea+wake_VV","angle":15,"nrcs":5.3},{"series":"sea+wake_VV","angle":17,"nrcs":5.3},{"series":"sea+wake_VV","angle":19,"nrcs":5.3},{"series":"sea+wake_VV","angle":21,"nrcs":4.7},{"series":"sea+wake_VV","angle":23,"nrcs":4.7},{"series":"sea+wake_VV","angle":25,"nrcs":4.3},{"series":"sea+wake_VV","angle":27,"nrcs":4},{"series":"sea+wake_VV","angle":29,"nrcs":4},{"series":"sea+wake_VV","angle":31,"nrcs":3.3},{"series":"sea+wake_VV","angle":33,"nrcs":3},{"series":"sea+wake_VV","angle":35,"nrcs":5.2},{"series":"sea+wake_VV","angle":37,"nrcs":3},{"series":"sea+wake_VV","angle":39,"nrcs":3.5},{"series":"sea+wake_VV","angle":41,"nrcs":2.5},{"series":"sea+wake_VV","angle":43,"nrcs":3.7},{"series":"sea+wake_VV","angle":45,"nrcs":3},{"series":"sea+wake_VV","angle":47,"nrcs":2.8},{"series":"sea+wake_VV","angle":49,"nrcs":3},{"series":"sea+wake_VV","angle":51,"nrcs":2.5},{"series":"sea+wake_VV","angle":53,"nrcs":2.7},{"series":"sea+wake_VV","angle":55,"nrcs":3.5},{"series":"sea+wake_VV","angle":57,"nrcs":3.7},{"series":"sea+wake_VV","angle":59,"nrcs":4.2},{"series":"sea+wake_VV","angle":61,"nrcs":3.2},{"series":"sea+wake_VV","angle":63,"nrcs":3},{"series":"sea+wake_VV","angle":65,"nrcs":2.8},{"series":"sea+wake_VV","angle":67,"nrcs":2.7},{"series":"sea+wake_VV","angle":69,"nrcs":2.5},{"series":"sea+wake_VV","angle":71,"nrcs":2.5},{"series":"sea+wake_VV","angle":73,"nrcs":2.5},{"series":"sea+wake_VV","angle":75,"nrcs":3},{"series":"sea+wake_VV","angle":77,"nrcs":5},{"series":"sea+wake_VV","angle":79,"nrcs":6.6},{"series":"sea+wake_VV","angle":81,"nrcs":6.6},{"series":"sea+wake_VV","angle":83,"nrcs":4.7},{"series":"sea+wake_VV","angle":85,"nrcs":2.5},{"series":"sea+wake_VV","angle":87,"nrcs":0.5},{"series":"sea+wake_VV","angle":89,"nrcs":-3.6}
]
},
"hconcat":[
{
 "width":364,"height":305,
 "data":{"name":"a"},
 "title":{"text":"(a)"},
 "layer":[
  {"transform":[{"filter":"datum.series !== 'sea+wake_VV'"}],
   "mark":{"type":"line","strokeWidth":1,"opacity":1},
   "encoding":{
    "x":{"field":"angle","type":"quantitative","scale":{"domain":[-90,90],"nice":false,"zero":false},"axis":{"values":[-90,-80,-70,-60,-50,-40,-30,-20,-10,0,10,20,30,40,50,60,70,80,90],"tickCount":100,"title":"Scattering Angle (°)","labelExpr":"'' + datum.value","labelOverlap":false,"labelFlush":false}},
    "y":{"field":"nrcs","type":"quantitative","scale":{"domain":[-60,20],"nice":false,"zero":false},"axis":{"values":[-60,-55,-50,-45,-40,-35,-30,-25,-20,-15,-10,-5,0,5,10,15,20],"tickCount":100,"title":"Bistatic NRCS (dB)","labelExpr":"'' + datum.value","labelOverlap":false,"labelFlush":false}},
    "color":{"field":"series","type":"nominal","scale":{"domain":["sea_HH","sea_VV","sea+wake_HH","sea+wake_VV"],"range":["black","red","black","black"]},
     "legend":{"legendX":183.5,"legendY":126,
      "encode":{"symbols":{"update":{
       "shape":{"signal":"datum.value === 'sea+wake_HH' ? 'M-1,0H1M-0.2,0A0.2,0.2,0,1,1,0.2,0A0.2,0.2,0,1,1,-0.2,0Z' : datum.value === 'sea+wake_VV' ? 'M-1,0H-0.95M-0.9,0H-0.85M-0.8,0H-0.75M-0.7,0H-0.65M-0.6,0H-0.55M-0.5,0H-0.45M-0.4,0H-0.35M-0.3,0H-0.25M0.25,0H0.3M0.35,0H0.4M0.45,0H0.5M0.55,0H0.6M0.65,0H0.7M0.75,0H0.8M0.85,0H0.9M0.95,0H1M-0.2,0A0.2,0.2,0,1,1,0.2,0A0.2,0.2,0,1,1,-0.2,0Z' : 'M-1,0H1'"},
       "fill":{"signal":"datum.value === 'sea+wake_HH' ? 'black' : datum.value === 'sea+wake_VV' ? 'white' : 'transparent'"},
       "stroke":{"signal":"datum.value === 'sea_VV' ? 'red' : 'black'"},
       "strokeWidth":{"value":1},"opacity":{"value":1}}}}}}
   }},
  {"transform":[{"filter":"datum.series === 'sea+wake_VV'"}],
   "mark":{"type":"line","color":"black","strokeWidth":0.8,"strokeDash":[1,1.5]},
   "encoding":{"x":{"field":"angle","type":"quantitative"},"y":{"field":"nrcs","type":"quantitative"}}},
  {"transform":[{"filter":"datum.series === 'sea+wake_HH'"}],
   "mark":{"type":"point","shape":"circle","filled":true,"color":"black","size":34,"opacity":1},
   "encoding":{"x":{"field":"angle","type":"quantitative"},"y":{"field":"nrcs","type":"quantitative"}}},
  {"transform":[{"filter":"datum.series === 'sea+wake_VV'"}],
   "mark":{"type":"point","shape":"circle","filled":true,"fill":"white","stroke":"black","strokeWidth":1,"size":30,"opacity":1},
   "encoding":{"x":{"field":"angle","type":"quantitative"},"y":{"field":"nrcs","type":"quantitative"}}}
 ]
},
{
 "width":364,"height":305,
 "data":{"name":"b"},
 "title":{"text":"(b)"},
 "layer":[
  {"transform":[{"filter":"datum.series !== 'sea+wake_VV'"}],
   "mark":{"type":"line","strokeWidth":1,"opacity":1},
   "encoding":{
    "x":{"field":"angle","type":"quantitative","scale":{"domain":[-90,90],"nice":false,"zero":false},"axis":{"values":[-90,-80,-70,-60,-50,-40,-30,-20,-10,0,10,20,30,40,50,60,70,80,90],"tickCount":100,"title":"Scattering Angle (°)","labelExpr":"'' + datum.value","labelOverlap":false,"labelFlush":false}},
    "y":{"field":"nrcs","type":"quantitative","scale":{"domain":[-70,20],"nice":false,"zero":false},"axis":{"values":[-70,-65,-60,-55,-50,-45,-40,-35,-30,-25,-20,-15,-10,-5,0,5,10,15,20],"tickCount":100,"title":"Bistatic NRCS (dB)","labelExpr":"'' + datum.value","labelOverlap":false,"labelFlush":false}},
    "color":{"field":"series","type":"nominal","scale":{"domain":["sea_HH","sea_VV","sea+wake_HH","sea+wake_VV"],"range":["black","red","black","black"]},
     "legend":{"legendX":183.5,"legendY":126,
      "encode":{"symbols":{"update":{
       "shape":{"signal":"datum.value === 'sea+wake_HH' ? 'M-1,0H1M-0.2,0A0.2,0.2,0,1,1,0.2,0A0.2,0.2,0,1,1,-0.2,0Z' : datum.value === 'sea+wake_VV' ? 'M-1,0H-0.95M-0.9,0H-0.85M-0.8,0H-0.75M-0.7,0H-0.65M-0.6,0H-0.55M-0.5,0H-0.45M-0.4,0H-0.35M-0.3,0H-0.25M0.25,0H0.3M0.35,0H0.4M0.45,0H0.5M0.55,0H0.6M0.65,0H0.7M0.75,0H0.8M0.85,0H0.9M0.95,0H1M-0.2,0A0.2,0.2,0,1,1,0.2,0A0.2,0.2,0,1,1,-0.2,0Z' : 'M-1,0H1'"},
       "fill":{"signal":"datum.value === 'sea+wake_HH' ? 'black' : datum.value === 'sea+wake_VV' ? 'white' : 'transparent'"},
       "stroke":{"signal":"datum.value === 'sea_VV' ? 'red' : 'black'"},
       "strokeWidth":{"value":1},"opacity":{"value":1}}}}}}
   }},
  {"transform":[{"filter":"datum.series === 'sea+wake_VV'"}],
   "mark":{"type":"line","color":"black","strokeWidth":0.8,"strokeDash":[1,1.5]},
   "encoding":{"x":{"field":"angle","type":"quantitative"},"y":{"field":"nrcs","type":"quantitative"}}},
  {"transform":[{"filter":"datum.series === 'sea+wake_HH'"}],
   "mark":{"type":"point","shape":"circle","filled":true,"color":"black","size":34,"opacity":1},
   "encoding":{"x":{"field":"angle","type":"quantitative"},"y":{"field":"nrcs","type":"quantitative"}}},
  {"transform":[{"filter":"datum.series === 'sea+wake_VV'"}],
   "mark":{"type":"point","shape":"circle","filled":true,"fill":"white","stroke":"black","strokeWidth":1,"size":30,"opacity":1},
   "encoding":{"x":{"field":"angle","type":"quantitative"},"y":{"field":"nrcs","type":"quantitative"}}}
 ]
}
]
}
